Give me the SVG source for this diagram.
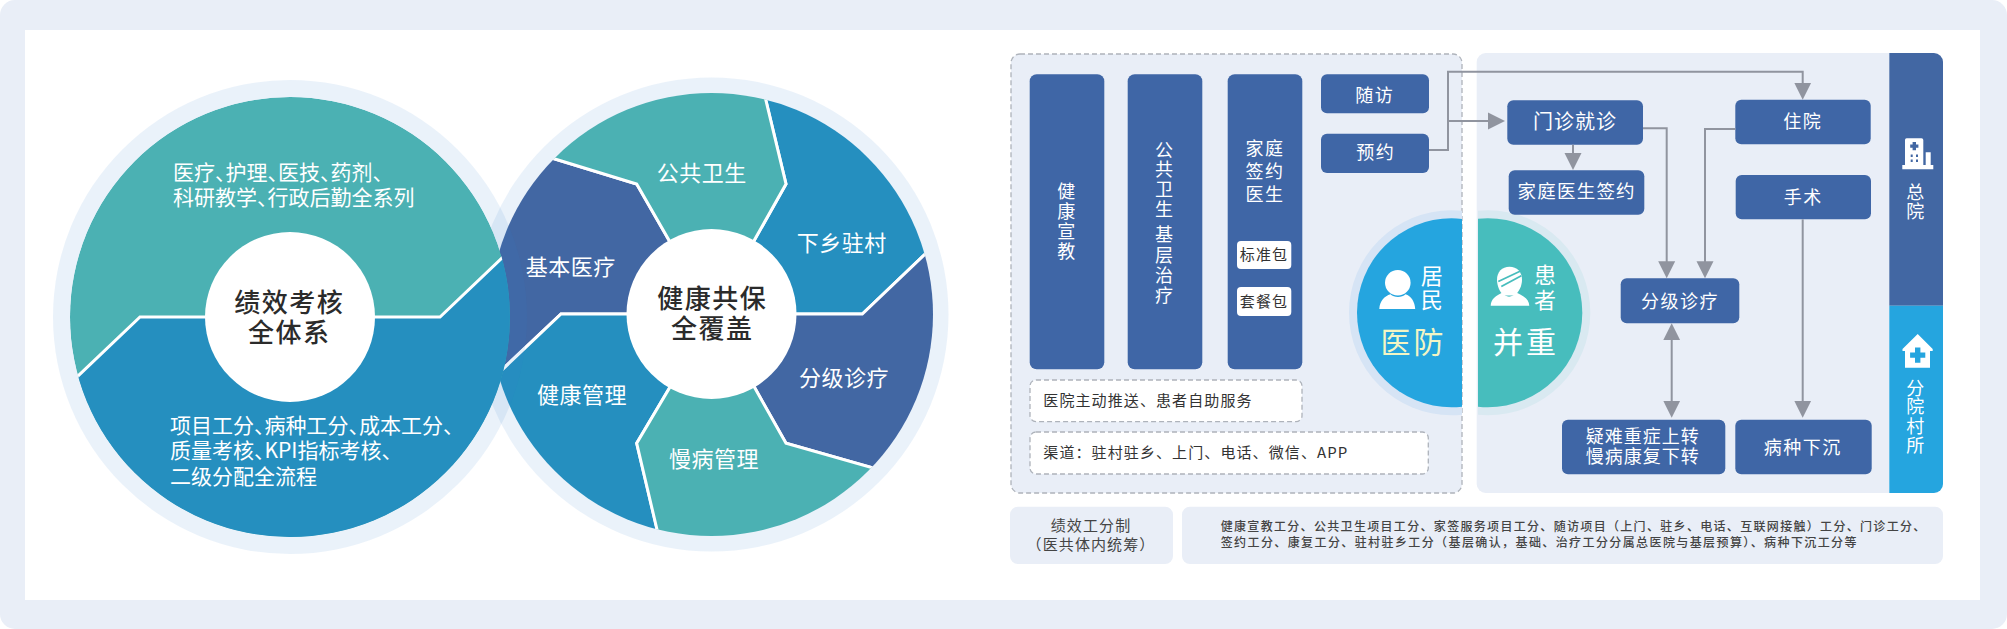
<svg xmlns="http://www.w3.org/2000/svg" width="2007" height="629" viewBox="0 0 2007 629">
<style>
text{font-family:"Noto Sans CJK SC","Noto Sans",sans-serif;text-anchor:middle;dominant-baseline:central;fill:#fff;transform:translateY(-.08em)}
.w{font-size:18px;letter-spacing:1.5px}
.seg{font-size:22px;letter-spacing:.5px}
.hub{font-size:26px;letter-spacing:1.5px;fill:#2b2b2b;font-weight:500}
.para{font-size:21px;text-anchor:start;font-feature-settings:"halt"}
.ink{fill:#333;font-size:15px;letter-spacing:1.1px}
.fine{fill:#444;font-size:12px;letter-spacing:1.32px;text-anchor:start;font-weight:500}
.start{text-anchor:start}
.big{font-size:30px;letter-spacing:3px}
.box{fill:#3f66a6}
.teal{fill:#4bb1b3}.blue{fill:#258fbf}.dark{fill:#4267a3}
.cut{stroke:#fff;stroke-width:3;stroke-linejoin:miter}
.halo{fill:#2f80d0;fill-opacity:.1}
.dash{stroke:#aeb3bb;stroke-width:1.3;stroke-dasharray:5 3}
.conn{fill:none;stroke:#90949f;stroke-width:2}
</style>
<defs>
<marker id="ah" markerUnits="userSpaceOnUse" markerWidth="18" markerHeight="18" viewBox="0 0 18 18" refX="1" refY="9" orient="auto-start-reverse"><path d="M0 .5L17 9L0 17.5Z" fill="#90949f"/></marker>
<clipPath id="cl"><circle cx="290" cy="317" r="220"/></clipPath>
<clipPath id="cr"><circle cx="711.5" cy="314.5" r="221.5"/></clipPath>
<clipPath id="cA"><rect x="1340" y="200" width="122" height="230"/></clipPath>
<clipPath id="cB"><rect x="1478" y="200" width="122" height="230"/></clipPath>
</defs>
<rect width="2007" height="629" rx="15" fill="#e9eef7"/>
<rect x="25" y="30" width="1955" height="570" fill="#fff"/>

<g id="right-wheel">
<circle class="halo" cx="711.5" cy="314.5" r="237"/>
<g clip-path="url(#cr)">
<path class="dark cut" d="M711 314L668.3 239L636.7 184L473 134L400 300L503.3 368.3L561 314Z"/>
<path class="blue cut" d="M711 314L796 314L862.3 314L986 196L986 0L745 14L786 184L755 239Z"/>
<path class="dark cut" d="M711 314L796 314L862.3 314L986 196L986 560L954 491L786 443.3L755 388.3Z"/>
<path class="blue cut" d="M711 314L626.7 314L561 314L445 424L445 620L677 613L636.7 443.3L669.3 388.3Z"/>
<path class="teal cut" d="M711 314L668.3 239L636.7 184L473 134L480 0L745 14L765.7 99.3L786 184L755 239Z"/>
<path class="teal cut" d="M711 314L755 388.3L786 443.3L954 491L900 620L677 613L656.7 528.3L636.7 443.3L669.3 388.3Z"/>
</g>
<circle cx="711.5" cy="314" r="85" fill="#fff"/>
<text class="seg" x="701.7" y="172.7">公共卫生</text>
<text class="seg" x="841.7" y="242.3">下乡驻村</text>
<text class="seg" x="844" y="377.3">分级诊疗</text>
<text class="seg" x="714" y="459">慢病管理</text>
<text class="seg" x="582" y="394.3">健康管理</text>
<text class="seg" x="570.7" y="266.7">基本医疗</text>
<text class="hub" x="712.3" y="299">健康共保</text>
<text class="hub" x="712.3" y="329">全覆盖</text>
</g>

<g id="left-wheel">
<circle class="halo" cx="290" cy="317" r="237"/>
<g clip-path="url(#cl)">
<circle class="teal" cx="290" cy="317" r="220"/>
<path class="blue cut" d="M16 435L140 317L440 317L566 197L566 560L16 560Z"/>
</g>
<circle cx="290" cy="317" r="85" fill="#fff"/>
<text class="para" x="173" y="172.7">医疗、护理、医技、药剂、</text>
<text class="para" x="173" y="197.7">科研教学、行政后勤全系列</text>
<text class="para" x="170" y="426">项目工分、病种工分、成本工分、</text>
<text class="para" x="170" y="451">质量考核、KPI指标考核、</text>
<text class="para" x="170" y="476.7">二级分配全流程</text>
<text class="hub" x="289.3" y="302.3">绩效考核</text>
<text class="hub" x="289.3" y="332.7">全体系</text>
</g>

<g id="prevention-panel">
<rect class="dash" x="1011" y="54" width="451" height="439" rx="9" fill="#e9eef7"/>
</g>
<g id="treatment-panel">
<path d="M1485.7 53H1889.3V493H1485.7a9 9 0 0 1-9-9V62a9 9 0 0 1 9-9Z" fill="#e9eef7"/>
</g>

<g id="node-health-education">
<rect class="box" x="1029.7" y="74.3" width="74.6" height="295" rx="7"/>
<text class="w" x="1067" y="191.7">健</text><text class="w" x="1067" y="211.7">康</text><text class="w" x="1067" y="231.7">宣</text><text class="w" x="1067" y="251.7">教</text>
</g>
<g id="node-public-health">
<rect class="box" x="1127.7" y="74.3" width="74.6" height="295" rx="7"/>
<text class="w" x="1164.7" y="150">公</text><text class="w" x="1164.7" y="169.3">共</text><text class="w" x="1164.7" y="189.3">卫</text><text class="w" x="1164.7" y="209">生</text>
<text class="w" x="1164.7" y="234.3">基</text><text class="w" x="1164.7" y="255">层</text><text class="w" x="1164.7" y="275">治</text><text class="w" x="1164.7" y="295">疗</text>
</g>
<g id="node-family-doctor">
<rect class="box" x="1227.7" y="74.3" width="74.6" height="295" rx="7"/>
<text class="w" x="1265" y="148">家庭</text><text class="w" x="1265" y="171">签约</text><text class="w" x="1265" y="194.7">医生</text>
<rect x="1237" y="241" width="54.3" height="28" rx="4" fill="#fff"/>
<text class="ink" x="1264" y="255">标准包</text>
<rect x="1237" y="287" width="54.3" height="29" rx="4" fill="#fff"/>
<text class="ink" x="1264" y="301.7">套餐包</text>
</g>
<g id="node-followup">
<rect class="box" x="1321" y="74.3" width="108" height="39" rx="6"/>
<text class="w" x="1374.7" y="95">随访</text>
</g>
<g id="node-appointment">
<rect class="box" x="1321" y="133.7" width="108" height="39.3" rx="6"/>
<text class="w" x="1375.7" y="152.3">预约</text>
</g>
<g id="note-push">
<rect class="dash" x="1030" y="380" width="272" height="41.7" rx="6" fill="#fff"/>
<text class="ink start" x="1043.3" y="400.7">医院主动推送、患者自助服务</text>
</g>
<g id="note-channel">
<rect class="dash" x="1030" y="432" width="398.3" height="42" rx="6" fill="#fff"/>
<text class="ink start" x="1043.3" y="452.7">渠道：驻村驻乡、上门、电话、微信、APP</text>
</g>

<g id="node-resident">
<g clip-path="url(#cA)">
<circle cx="1451.5" cy="312.8" r="102.5" fill="#d6e4f5"/>
<circle cx="1451.5" cy="312.8" r="94.5" fill="#25a5df"/>
</g>
<circle cx="1397.8" cy="282.8" r="12.8" fill="#fff"/>
<path d="M1379.3 309C1379.8 301 1384.5 296 1390.5 294.3C1394 298 1402 298 1405.5 294.3C1411 296 1415 302 1415.2 309Z" fill="#fff"/>
<text x="1431.7" y="275.7" font-size="22">居</text>
<text x="1431.7" y="299.3" font-size="22">民</text>
<text class="big" x="1413.5" y="342.7" style="fill:#f3f5c4">医防</text>
</g>
<g id="node-patient">
<g clip-path="url(#cB)">
<circle cx="1487.8" cy="312.8" r="102.5" fill="#d9e9f1"/>
<circle cx="1487.8" cy="312.8" r="94.5" fill="#47bdbd"/>
</g>
<path d="M1509.5 266.7C1502 266.7 1497 272 1497 279.5C1497 286 1500 293 1504 295.5L1514 295.5C1519 292.5 1522 286 1522 279.5C1522 272 1517 266.7 1509.5 266.7Z" fill="#fff"/>
<path d="M1498.3 281.5L1520 271.2M1501.3 286.5L1521.3 275.7" stroke="#47bdbd" stroke-width="1.8" fill="none"/>
<path d="M1490.7 305.7C1491 299 1496 295.5 1502.5 292.5C1505 298 1513 298 1516 292.5C1523 295.5 1529 299 1529.3 305.7Z" fill="#fff"/>
<text x="1545" y="275" font-size="22">患</text>
<text x="1545" y="299.3" font-size="22">者</text>
<text class="big" x="1526" y="342.7">并重</text>
</g>

<g id="node-outpatient">
<rect class="box" x="1507.3" y="100.3" width="135.7" height="44.4" rx="6"/>
<text x="1575" y="121.7" font-size="20" letter-spacing="1">门诊就诊</text>
</g>
<g id="node-family-sign">
<rect class="box" x="1508.7" y="170.3" width="135.6" height="44.4" rx="6"/>
<text x="1576.7" y="191.7" font-size="18.5" letter-spacing="1.2">家庭医生签约</text>
</g>
<g id="node-inpatient">
<rect class="box" x="1735.3" y="99.7" width="135.4" height="44.6" rx="6"/>
<text class="w" x="1802.7" y="121.7">住院</text>
</g>
<g id="node-surgery">
<rect class="box" x="1735.7" y="175" width="135.3" height="44.3" rx="6"/>
<text class="w" x="1803.3" y="197.3">手术</text>
</g>
<g id="node-triage">
<rect class="box" x="1620.7" y="278.3" width="118.6" height="45" rx="6"/>
<text class="w" x="1680" y="301">分级诊疗</text>
</g>
<g id="node-referral">
<rect class="box" x="1562" y="419.7" width="163.3" height="54.6" rx="6"/>
<text x="1642.7" y="436.7" font-size="18" letter-spacing="1">疑难重症上转</text>
<text x="1642.7" y="456.7" font-size="18" letter-spacing="1">慢病康复下转</text>
</g>
<g id="node-sink">
<rect class="box" x="1735.3" y="419.7" width="136.4" height="54.6" rx="6"/>
<text class="w" x="1802.7" y="447.3">病种下沉</text>
</g>

<g id="node-general-hospital">
<path d="M1889.3 53H1934a9 9 0 0 1 9 9V305.7H1889.3Z" fill="#4267a3"/>
<path d="M1907 138.3H1921.5a1.8 1.8 0 0 1 1.8 1.8V165H1905V140.1a1.8 1.8 0 0 1 2-1.8ZM1925.7 152.3H1930.7V165H1925.7ZM1902.3 165H1933.3V169.3H1902.3Z" fill="#fff"/>
<path d="M1912.6 142H1916V144.4H1918.4V147.8H1916V150.2H1912.6V147.8H1910.2V144.4H1912.6Z" fill="#4267a3"/>
<path d="M1910.7 154.5h2v2.5h-2zM1916 154.5h2v2.5h-2zM1910.7 159.5h2v2.5h-2zM1916 159.5h2v2.5h-2z" fill="#4267a3"/>
<text class="w" x="1916" y="192.7">总</text><text class="w" x="1916" y="211.7">院</text>
</g>
<g id="node-branch-hospital">
<path d="M1889.3 305.7H1943V484a9 9 0 0 1-9 9H1889.3Z" fill="#25a5df"/>
<path d="M1917.7 334L1932.7 349V351H1930V367.7H1905V351H1902.5V349Z" fill="#fff"/>
<path d="M1915 347.5H1920.4V352.4H1925.3V357.8H1920.4V362.7H1915V357.8H1910.1V352.4H1915Z" fill="#25a5df"/>
<text class="w" x="1916" y="388.3">分</text><text class="w" x="1916" y="406.7">院</text><text class="w" x="1916" y="426.7">村</text><text class="w" x="1916" y="445">所</text>
</g>

<g id="connectors">
<path class="conn" d="M1429 150H1448V71.7H1802.7V83.7" marker-end="url(#ah)"/>
<path class="conn" d="M1448 121H1489" marker-end="url(#ah)"/>
<path class="conn" d="M1573 144.7V154" marker-end="url(#ah)"/>
<path class="conn" d="M1643 128.3H1666.7V262.3" marker-end="url(#ah)"/>
<path class="conn" d="M1735.3 129H1705V262.3" marker-end="url(#ah)"/>
<path class="conn" d="M1671.7 339.3V401.7" marker-start="url(#ah)" marker-end="url(#ah)"/>
<path class="conn" d="M1802.7 219.3V401.7" marker-end="url(#ah)"/>
</g>

<g id="note-merit">
<rect x="1010" y="506.7" width="163" height="57.3" rx="8" fill="#e9eef7"/>
<text class="ink" x="1091" y="525.7" style="font-size:15px;fill:#444">绩效工分制</text>
<text class="ink" x="1091" y="545" style="font-size:15px;fill:#444">（医共体内统筹）</text>
</g>
<g id="note-merit-detail">
<rect x="1182" y="506.7" width="761" height="57.3" rx="8" fill="#e9eef7"/>
<text class="fine" x="1220.7" y="526.7">健康宣教工分、公共卫生项目工分、家签服务项目工分、随访项目（上门、驻乡、电话、互联网接触）工分、门诊工分、</text>
<text class="fine" x="1220.7" y="542.7" style="letter-spacing:1.4px">签约工分、康复工分、驻村驻乡工分（基层确认，基础、治疗工分分属总医院与基层预算）、病种下沉工分等</text>
</g>
</svg>
